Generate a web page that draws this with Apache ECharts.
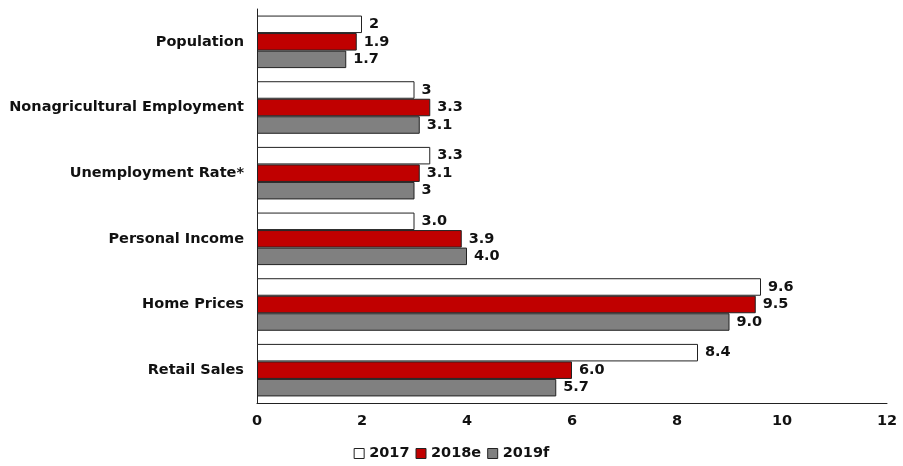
<!DOCTYPE html>
<html><head><meta charset="utf-8">
<script src="https://cdn.jsdelivr.net/npm/echarts@6/dist/echarts.min.js"></script>
<style>html,body{margin:0;padding:0;background:#fff}#c{width:903px;height:466px}</style>
</head><body><div id="c"></div>
<script>
const categories = ["Population","Nonagricultural Employment","Unemployment Rate*","Personal Income","Home Prices","Retail Sales"];
const seriesNames = ["2017","2018e","2019f"];
const v2017 = [2, 3, 3.3, 3.0, 9.6, 8.4];
const v2018e = [1.9, 3.3, 3.1, 3.9, 9.5, 6.0];
const v2019f = [1.7, 3.1, 3, 4.0, 9.0, 5.7];
const labels2017 = ["2","3","3.3","3.0","9.6","8.4"];
const labels2018e = ["1.9","3.3","3.1","3.9","9.5","6.0"];
const labels2019f = ["1.7","3.1","3","4.0","9.0","5.7"];
const xTicks = [0,2,4,6,8,10,12];

const font = 'Verdana, "DejaVu Sans", sans-serif';
const fs = 14.5;
const colors = ["#ffffff","#c00000","#808080"];
const chart = echarts.init(document.getElementById('c'));
function mk(name, data, lbls, color){
  return {
    name, type:'bar', data, barGap:'0%', barCategoryGap:'20%',
    itemStyle:{color, borderColor:'#222', borderWidth:1},
    label:{show:true, position:'right', distance:7, color:'#111', fontFamily:font, fontWeight:'bold', fontSize:fs,
      formatter:p=>lbls[p.dataIndex]}
  };
}
chart.setOption({
  animation:false,
  grid:{left:257, right:16, top:9, bottom:63, containLabel:false},
  legend:{bottom:0, left:'center', itemWidth:10, itemHeight:10, itemGap:6,
    textStyle:{fontFamily:font, fontWeight:'bold', fontSize:fs, color:'#111'},
    data:seriesNames.map(n=>({name:n, icon:'rect', itemStyle:{borderColor:'#222', borderWidth:1}}))},
  xAxis:{type:'value', min:xTicks[0], max:xTicks[xTicks.length-1], interval:2,
    axisLine:{show:true, lineStyle:{color:'#222'}}, axisTick:{show:false}, splitLine:{show:false},
    axisLabel:{fontFamily:font, fontWeight:'bold', fontSize:fs, color:'#111', margin:11}},
  yAxis:{type:'category', data:categories, inverse:true,
    axisLine:{show:true, lineStyle:{color:'#222'}}, axisTick:{show:false},
    axisLabel:{fontFamily:font, fontWeight:'bold', fontSize:fs, color:'#111', margin:13}},
  series:[mk(seriesNames[0], v2017, labels2017, colors[0]), mk(seriesNames[1], v2018e, labels2018e, colors[1]), mk(seriesNames[2], v2019f, labels2019f, colors[2])]
});
</script></body></html>
